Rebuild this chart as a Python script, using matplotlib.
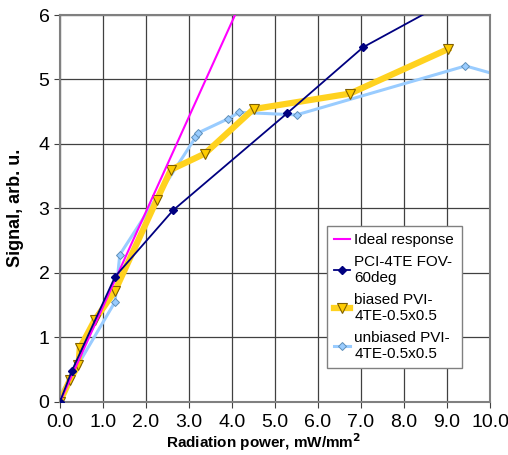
import matplotlib
matplotlib.use("Agg")
import matplotlib.pyplot as plt

plt.rcParams['font.family'] = ['Liberation Sans', 'DejaVu Sans']

ideal_x = [0.0, 4.07]
ideal_y = [0.0, 6.0]

pci_x = [0.0, 0.27, 1.28, 2.63, 5.29, 7.05, 9.5]
pci_y = [0.0, 0.47, 1.94, 2.97, 4.48, 5.50, 6.39]

biased_x = [0.0, 0.23, 0.43, 0.46, 0.81, 1.28, 2.25, 2.58, 3.37, 4.50, 6.74, 9.02]
biased_y = [0.0, 0.34, 0.57, 0.83, 1.27, 1.72, 3.13, 3.60, 3.85, 4.54, 4.78, 5.47]

unb_x = [0.0, 1.28, 1.39, 3.15, 3.21, 3.91, 4.17, 5.50, 9.43, 10.6]
unb_y = [0.1, 1.55, 2.28, 4.10, 4.17, 4.39, 4.49, 4.45, 5.21, 4.99]

labels = ["Ideal response", "PCI-4TE FOV-\n60deg", "biased PVI-\n4TE-0.5x0.5", "unbiased PVI-\n4TE-0.5x0.5"]
xticks = [0, 1, 2, 3, 4, 5, 6, 7, 8, 9, 10]
yticks = [0, 1, 2, 3, 4, 5, 6]

fig = plt.figure(figsize=(5.08, 4.55), dpi=100)
ax = fig.add_axes([60/508, 1-401.7/455, 430/508, (401.7-15)/455])

ax.plot(ideal_x, ideal_y, color='#FF00FF', lw=1.5, label=labels[0], zorder=3)
ax.plot(pci_x, pci_y, color='#000080', lw=1.3, marker='D', ms=4.5, mfc='#000080', mec='#000080', label=labels[1], zorder=4)
ax.plot(biased_x, biased_y, color='#FFD21F', lw=4.5, marker='v', ms=7, mfc='#FFCC00', mec='#806000', mew=0.8, label=labels[2], zorder=2)
ax.plot(unb_x, unb_y, color='#99CCFF', lw=2.2, marker='D', ms=4.5, mfc='#99CCFF', mec='#5F8FB8', mew=0.7, label=labels[3], zorder=1)

ax.set_xlim(0, 10)
ax.set_ylim(0, 6)
ax.set_xticks(xticks)
ax.set_xticklabels([f"{v:.1f}" for v in xticks])
ax.set_yticks(yticks)
ax.set_yticklabels([str(v) for v in yticks])
ax.tick_params(labelsize=14, length=4, color='#404040', direction='out')
ax.tick_params(axis='x', pad=5)
ax.grid(True, color='#404040', lw=0.9)
ax.set_axisbelow(True)
for s in ax.spines.values():
    s.set_color('#808080')
    s.set_linewidth(1.5)

ax.set_xlabel("Radiation power, mW/mm$^\\mathbf{2}$", fontsize=11, fontweight='bold', va='baseline')
ax.xaxis.set_label_coords((264-60)/430, (401.7-448)/386.7)
ax.set_ylabel("Signal, arb. u.", fontsize=13, fontweight='bold', va='center')
ax.yaxis.set_label_coords((16-60)/430, 0.502)

leg = ax.legend(loc='upper left', bbox_to_anchor=((326.7-60)/430, (401.7-225.7)/386.7),
                fontsize=11, frameon=True, fancybox=False, edgecolor='#808080',
                handlelength=1.0, handletextpad=0.3, borderpad=0.5, labelspacing=0.5,
                borderaxespad=0, framealpha=1)
leg.get_frame().set_linewidth(1.0)

fig.savefig("out.png", dpi=100)
